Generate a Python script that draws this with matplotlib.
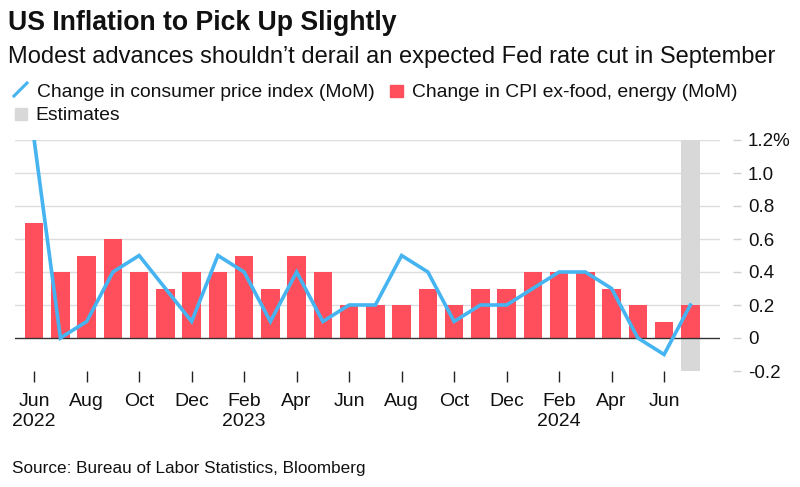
import matplotlib
matplotlib.use("Agg")
import matplotlib.pyplot as plt
from matplotlib.patches import Rectangle
from matplotlib.lines import Line2D

plt.rcParams['font.family'] = ['Liberation Sans', 'DejaVu Sans']

months = ['Jun', 'Jul', 'Aug', 'Sep', 'Oct', 'Nov', 'Dec',
          'Jan', 'Feb', 'Mar', 'Apr', 'May', 'Jun', 'Jul', 'Aug', 'Sep', 'Oct', 'Nov', 'Dec',
          'Jan', 'Feb', 'Mar', 'Apr', 'May', 'Jun', 'Jul']
years = {0: '2022', 8: '2023', 20: '2024'}
cpi = [1.2, 0.0, 0.1, 0.4, 0.5, 0.3, 0.1, 0.5, 0.4, 0.1, 0.4, 0.1, 0.2, 0.2,
       0.5, 0.4, 0.1, 0.2, 0.2, 0.3, 0.4, 0.4, 0.3, 0.0, -0.1, 0.2]
core = [0.7, 0.4, 0.5, 0.6, 0.4, 0.3, 0.4, 0.4, 0.5, 0.3, 0.5, 0.4, 0.2, 0.2,
        0.2, 0.3, 0.2, 0.3, 0.3, 0.4, 0.4, 0.4, 0.3, 0.2, 0.1, 0.2]
estimate_idx = 25
yticks = [-0.2, 0, 0.2, 0.4, 0.6, 0.8, 1.0, 1.2]
ytick_labels = ['-0.2', '0', '0.2', '0.4', '0.6', '0.8', '1.0', '1.2%']

RED = '#ff4f5c'
BLUE = '#45b4f0'
GRAY = '#d8d8d8'
INK = '#111111'

W, H = 800, 487
fig = plt.figure(figsize=(8, 4.87), dpi=100)

def fx(px):
    return px / W

def fy(py):
    return 1 - py / H

ax = fig.add_axes([fx(15), fy(371), fx(720) - fx(15), fy(140) - fy(371)])
x = list(range(len(months)))

ax.bar([estimate_idx], [1.4], bottom=-0.2, width=0.7, color=GRAY, zorder=1)
ax.bar(x, core, width=0.7, color=RED, zorder=2)
ax.plot(x, cpi, color=BLUE, lw=2.6, zorder=4, solid_joinstyle='miter')

for t in yticks:
    if t == 0:
        ax.axhline(0, color='#333333', lw=1, zorder=3)
    elif t > -0.2:
        ax.axhline(t, color='#dddddd', lw=1, zorder=0)

ax.set_xlim(-0.73, 26.13)
ax.set_ylim(-0.2, 1.2)

for s in ['top', 'left', 'bottom']:
    ax.spines[s].set_visible(False)
ax.spines['right'].set_position(('outward', 9))
ax.spines['right'].set_visible(False)
ax.yaxis.tick_right()
ax.set_yticks(yticks)
ax.set_yticklabels(ytick_labels)
ax.tick_params(axis='y', length=6, width=1, color='#d0d0d0', pad=5,
               labelsize=13.5, labelcolor=INK)

xt = list(range(0, len(months), 2))
ax.set_xticks(xt)
ax.set_xticklabels([months[i] + ('\n' + years[i] if i in years else '') for i in xt],
                   linespacing=1.25)
ax.tick_params(axis='x', length=8, width=1, color='#222222', pad=8,
               labelsize=14, labelcolor=INK)

fig.text(fx(8), fy(30), 'US Inflation to Pick Up Slightly', fontsize=19.2, fontweight='bold',
         va='baseline', ha='left', color=INK)
fig.text(fx(8), fy(63), 'Modest advances shouldn\u2019t derail an expected Fed rate cut in September',
         fontsize=17, va='baseline', ha='left', color=INK)

fig.add_artist(Line2D([fx(14), fx(27)], [fy(96), fy(83)], color=BLUE, lw=2.2,
                      transform=fig.transFigure))
fig.text(fx(37), fy(97), 'Change in consumer price index (MoM)', fontsize=13.9,
         va='baseline', ha='left', color=INK)
fig.add_artist(Rectangle((fx(390), fy(97)), fx(13), fy(85) - fy(97), color=RED,
                         transform=fig.transFigure))
fig.text(fx(412), fy(97), 'Change in CPI ex-food, energy (MoM)', fontsize=13.9,
         va='baseline', ha='left', color=INK)
fig.add_artist(Rectangle((fx(15), fy(120)), fx(12), fy(108) - fy(120), color=GRAY,
                         transform=fig.transFigure))
fig.text(fx(35), fy(120), 'Estimates', fontsize=13.9, va='baseline', ha='left', color=INK)

fig.text(fx(12), fy(473), 'Source: Bureau of Labor Statistics, Bloomberg', fontsize=12.3,
         va='baseline', ha='left', color=INK)

fig.savefig('out.png', dpi=100)
